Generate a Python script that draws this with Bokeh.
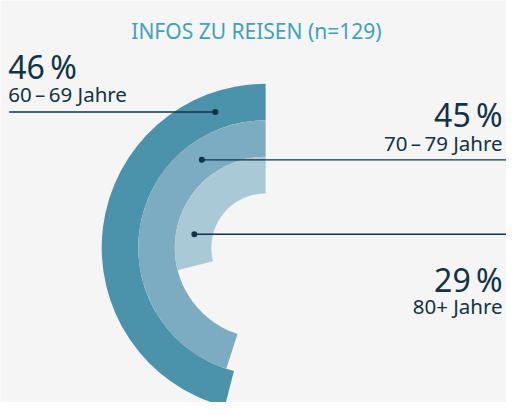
from bokeh.plotting import figure
from bokeh.models import Range1d, ColumnDataSource
from bokeh.core.properties import value
from bokeh.embed import file_html
from bokeh.resources import INLINE
import math

# ---- data ----
categories = ["60\u2009\u2013\u200969 Jahre", "70\u2009\u2013\u200979 Jahre", "80+ Jahre"]
values = [46, 45, 29]
title_text = "INFOS ZU REISEN (n=129)"

# ---- style ----
colors = ["#4A93AB", "#7BACC1", "#A9C9D6"]
BG = "#F5F5F5"
DARK = "#0F3347"
TEAL = "#3EA2BF"
FONT = "Noto Sans"

W, H = 506, 402
RW, RH = 522, 418
# data coords: x = reference px, y = 418 - reference px
def Y(py):
    return RH - py

p = figure(width=W, height=H, output_backend="svg", toolbar_location=None,
           x_range=Range1d(0, RW), y_range=Range1d(0, RH),
           min_border=0, background_fill_color=BG, border_fill_color=BG,
           outline_line_color=None)
p.axis.visible = False
p.grid.visible = False

cx, cy = 273.5, Y(257)
r0, band = 56, 37.7

n = len(values)
inner = [r0 + (n - 1 - i) * band for i in range(n)]
outer = [r + band for r in inner]
start = [math.pi / 2] * n
end = [math.pi / 2 + v / 100 * 2 * math.pi for v in values]

src = ColumnDataSource(dict(x=[cx] * n, y=[cy] * n, ir=inner, orr=outer,
                            sa=start, ea=end, c=colors))
p.annular_wedge(x="x", y="y", inner_radius="ir", outer_radius="orr",
                start_angle="sa", end_angle="ea", direction="anticlock",
                fill_color="c", line_color=None, source=src)

# leader lines
line_py = [116, 165.7, 243]
side = ["left", "right", "right"]
for i in range(n):
    rm = (inner[i] + outer[i]) / 2
    dy = cy - Y(line_py[i])
    dx = math.sqrt(rm ** 2 - dy ** 2)
    dot_x = cx - dx
    yy = Y(line_py[i])
    if side[i] == "left":
        p.line([9, dot_x], [yy, yy], line_color=DARK, line_width=1.4)
    else:
        p.line([dot_x, 522], [yy, yy], line_color=DARK, line_width=1.4)
    p.scatter([dot_x], [yy], size=6, fill_color=DARK, line_color=None)

# title
p.text([264], [Y(32)], text=[title_text], text_font=value(FONT),
       text_font_size="21px", text_color=TEAL, text_align="center",
       text_baseline="alphabetic")

# labels
pct_pos = [(8, 69, "left"), (518, 119, "right"), (518, 290, "right")]
cat_pos = [(8, 97, "left"), (518, 148, "right"), (518, 318, "right")]
for i in range(n):
    x, py, al = pct_pos[i]
    p.text([x], [Y(py)], text=[f"{values[i]}\u2009%"], text_font=value(FONT),
           text_font_size="32px", text_color=DARK, text_align=al,
           text_baseline="alphabetic")
    x, py, al = cat_pos[i]
    p.text([x], [Y(py)], text=[categories[i]], text_font=value(FONT),
           text_font_size="20.5px", text_color=DARK, text_align=al,
           text_baseline="alphabetic")

open("out.html", "w").write(file_html(p, INLINE))
